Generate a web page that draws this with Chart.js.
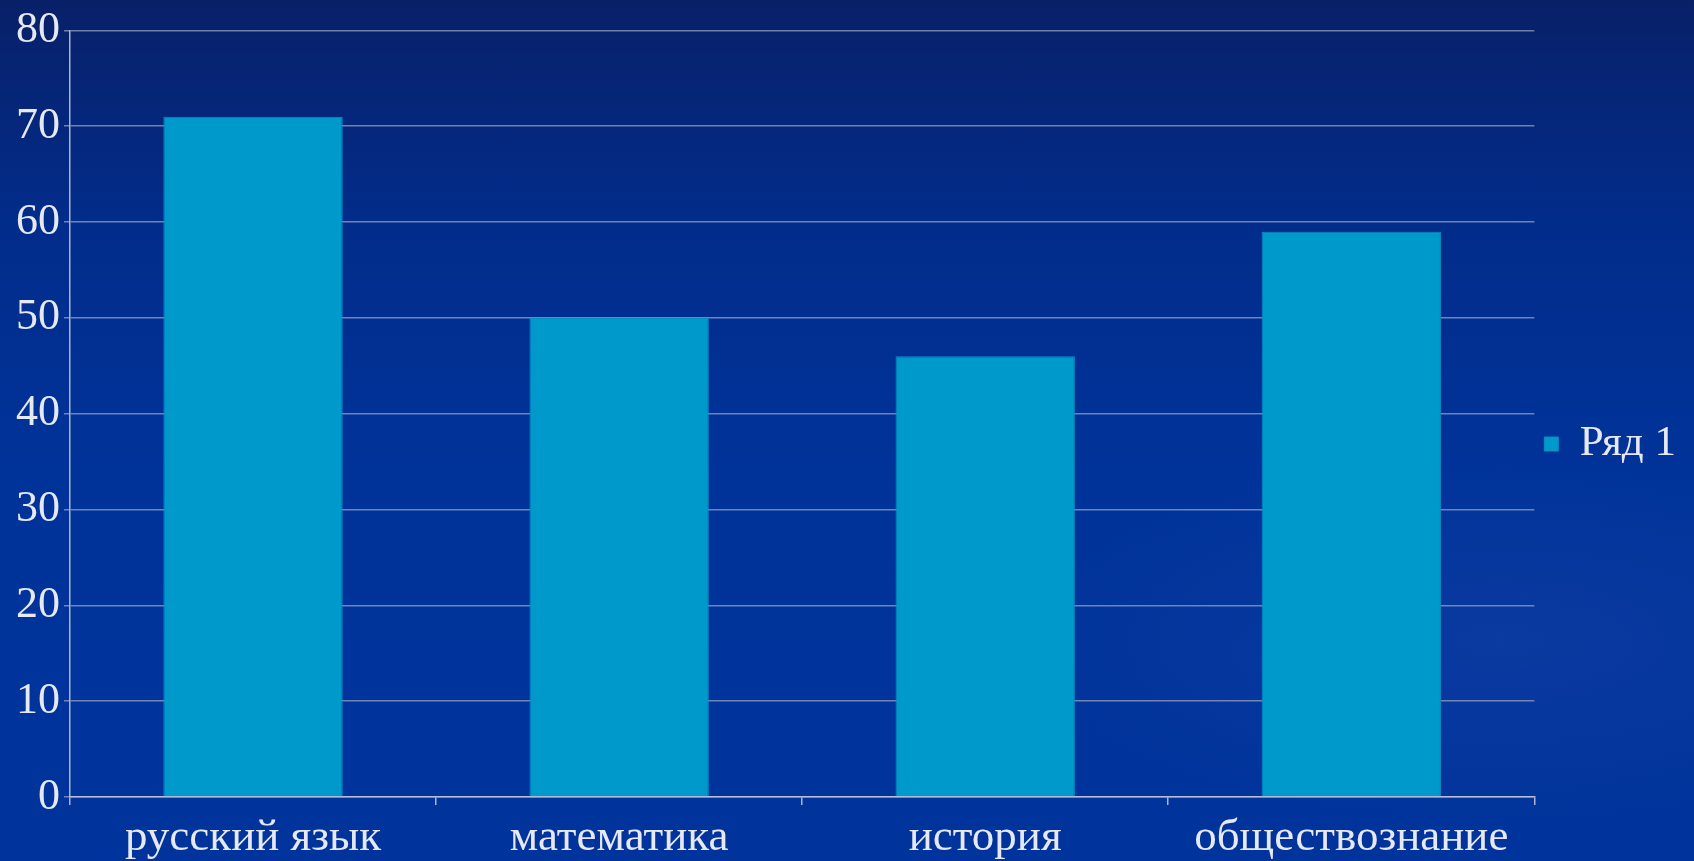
<!DOCTYPE html>
<html>
<head>
<meta charset="utf-8">
<script src="https://cdn.jsdelivr.net/npm/chart.js@4/dist/chart.umd.min.js"></script>
<style>
  html, body { margin: 0; padding: 0; }
  body {
    width: 1694px;
    height: 861px;
    overflow: hidden;
    background:
      radial-gradient(ellipse 700px 260px at 1500px 640px, rgba(30, 70, 170, 0.35), rgba(0, 0, 0, 0) 70%),
      linear-gradient(to bottom, #082068 0%, #022c8a 25%, #00339a 55%, #00349c 100%);
  }
  #chart-container { position: absolute; left: 0; top: 0; width: 1694px; height: 861px; }
</style>
</head>
<body>
<div id="chart-container"><canvas id="myChart"></canvas></div>
<script>
const categories = ['русский язык', 'математика', 'история', 'обществознание']
const seriesName = 'Ряд 1'
const values = [71, 50, 46, 59]
const yTicks = [0, 10, 20, 30, 40, 50, 60, 70, 80]

const textColor = '#e6e8f2'
const fontFamily = '"Liberation Serif", "DejaVu Serif", serif'

const config = {
  type: 'bar',
  data: {
    labels: categories,
    datasets: [{
      label: seriesName,
      data: values,
      backgroundColor: '#0099cc',
      borderColor: '#0a8fc0',
      borderWidth: 1,
      barPercentage: 0.49,
      categoryPercentage: 1
    }]
  },
  options: {
    responsive: true,
    maintainAspectRatio: false,
    animation: false,
    layout: {
      padding: { top: 27, right: 8, bottom: 0, left: 0 }
    },
    plugins: {
      legend: {
        position: 'right',
        labels: {
          color: textColor,
          font: { family: fontFamily, size: 43 },
          boxWidth: 14,
          boxHeight: 14,
          padding: 10
        }
      },
      tooltip: { enabled: false }
    },
    scales: {
      y: {
        min: 0,
        max: 80,
        afterBuildTicks: (scale) => {
          scale.ticks = yTicks.map(v => ({ value: v }))
        },
        afterFit: (scale) => { scale.width = 70 },
        ticks: {
          color: textColor,
          font: { family: fontFamily, size: 44 },
          padding: 4
        },
        grid: {
          color: 'rgba(150, 160, 190, 0.75)',
          lineWidth: 1.5,
          tickLength: 6
        },
        border: { color: 'rgba(190, 195, 215, 0.9)', width: 1.5 }
      },
      x: {
        afterFit: (scale) => { scale.height = 64 },
        ticks: {
          color: textColor,
          font: { family: fontFamily, size: 45 },
          padding: 6
        },
        grid: {
          display: true,
          drawOnChartArea: false,
          color: 'rgba(190, 195, 215, 0.9)',
          lineWidth: 1.5,
          tickLength: 8
        },
        border: { color: 'rgba(190, 195, 215, 0.9)', width: 1.5 }
      }
    }
  }
}

const myChart = new Chart(document.getElementById('myChart'), config)
</script>
</body>
</html>
